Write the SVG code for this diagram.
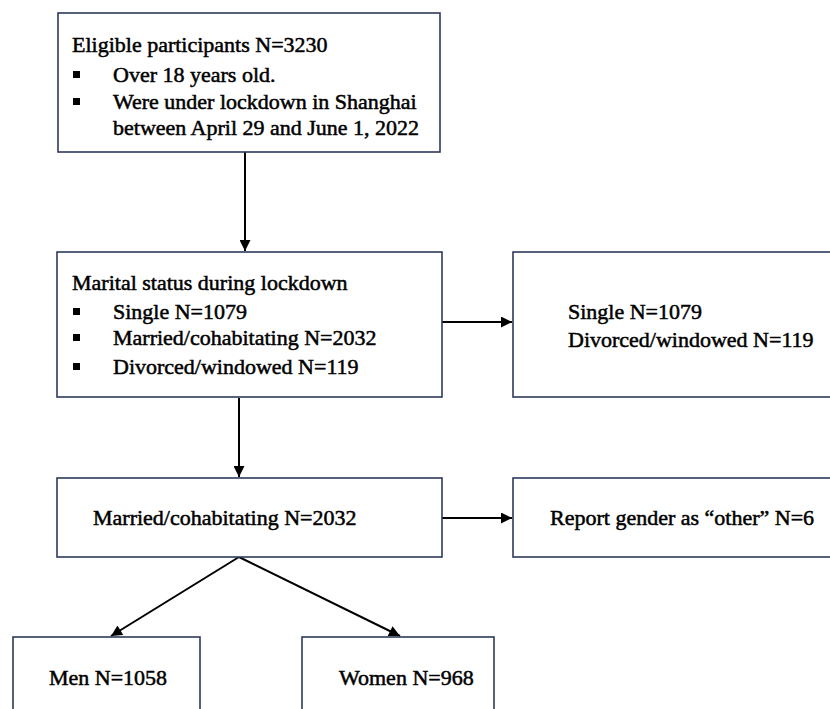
<svg xmlns="http://www.w3.org/2000/svg" width="830" height="709" viewBox="0 0 830 709">
<defs>
<style>
.box{fill:#fff;stroke:#2f3a5a;stroke-width:1.6}
text{font-family:'Liberation Serif','Times New Roman',Times,serif;font-size:22px;fill:#000;stroke:#000;stroke-width:0.5}
.b{fill:#000}
.c{stroke:#000;stroke-width:2;fill:none}
</style>
<marker id="ah" viewBox="0 0 10 10" refX="10" refY="5" markerWidth="6" markerHeight="5.5" markerUnits="strokeWidth" orient="auto">
<path d="M0,0 L10,5 L0,10 z" fill="#000"/>
</marker>
</defs>
<rect width="830" height="709" fill="#fff"/>
<g id="connectors">
<line class="c" x1="245" y1="152" x2="245" y2="251" marker-end="url(#ah)"/>
<line class="c" x1="239" y1="398" x2="239" y2="477" marker-end="url(#ah)"/>
<line class="c" x1="442" y1="322" x2="512" y2="322" marker-end="url(#ah)"/>
<line class="c" x1="442" y1="518" x2="512" y2="518" marker-end="url(#ah)"/>
<line class="c" x1="239" y1="557" x2="111" y2="636" marker-end="url(#ah)"/>
<line class="c" x1="239" y1="557" x2="400" y2="636" marker-end="url(#ah)"/>
</g>
<g id="node-eligible">
<rect class="box" x="58" y="13" width="382" height="139"/>
<text x="72" y="52">Eligible participants N=3230</text>
<rect class="b" x="73" y="71" width="7" height="7"/>
<text x="113" y="82">Over 18 years old.</text>
<rect class="b" x="73" y="98" width="7" height="7"/>
<text x="113" y="109">Were under lockdown in Shanghai</text>
<text x="113" y="135">between April 29 and June 1, 2022</text>
</g>
<g id="node-marital">
<rect class="box" x="57" y="252" width="385" height="145"/>
<text x="72" y="290">Marital status during lockdown</text>
<rect class="b" x="73" y="308" width="7" height="7"/>
<text x="113" y="319">Single N=1079</text>
<rect class="b" x="73" y="334" width="7" height="7"/>
<text x="113" y="345">Married/cohabitating N=2032</text>
<rect class="b" x="73" y="363" width="7" height="7"/>
<text x="113" y="374">Divorced/windowed N=119</text>
</g>
<g id="node-excluded1">
<rect class="box" x="513" y="252" width="330" height="145"/>
<text x="568" y="319">Single N=1079</text>
<text x="568" y="347">Divorced/windowed N=119</text>
</g>
<g id="node-married">
<rect class="box" x="57" y="478" width="385" height="79"/>
<text x="93" y="525">Married/cohabitating N=2032</text>
</g>
<g id="node-other">
<rect class="box" x="513" y="478" width="330" height="79"/>
<text x="550" y="525">Report gender as “other” N=6</text>
</g>
<g id="node-men">
<rect class="box" x="13" y="637" width="187" height="90"/>
<text x="49" y="685">Men N=1058</text>
</g>
<g id="node-women">
<rect class="box" x="302" y="637" width="192" height="90"/>
<text x="339" y="685">Women N=968</text>
</g>
</svg>
